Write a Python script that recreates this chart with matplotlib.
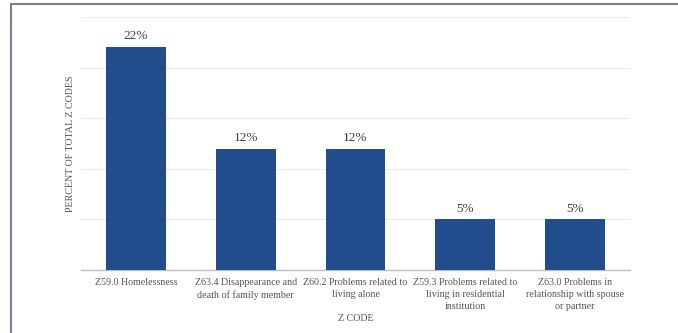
import matplotlib.pyplot as plt
from matplotlib.patches import Rectangle

# ── Datos ───────────────────────────────────────────────────────────────────
categories = [
    "Z59.0 Homelessness",
    "Z63.4 Disappearance and\ndeath of family member",
    "Z60.2 Problems related to\nliving alone",
    "Z59.3 Problems related to\nliving in residential\ninstitution",
    "Z63.0 Problems in\nrelationship with spouse\nor partner",
]
percent = [22, 12, 12, 5, 5]
value_labels = ["22%", "12%", "12%", "5%", "5%"]
y_gridlines = [0, 5, 10, 15, 20, 25]

BAR_COLOR = "#214d8c"
TEXT_COLOR = "#555555"

plt.rcParams["font.family"] = ["Liberation Serif", "DejaVu Serif"]

# ── Figura ──────────────────────────────────────────────────────────────────
fig = plt.figure(figsize=(6.78, 3.33), dpi=100, facecolor="white")
ax = fig.add_axes([81 / 678, 1 - 270 / 333, 549 / 678, 253 / 333])

x = list(range(len(categories)))
ax.bar(x, percent, width=0.545, color=BAR_COLOR, zorder=3)

for xi, v, lab in zip(x, percent, value_labels):
    ax.annotate(lab, xy=(xi, v), xytext=(0, 3.5), textcoords="offset points",
                ha="center", va="bottom", fontsize=9.5, color="#404040")

ax.set_xlim(-0.5, len(categories) - 0.5)
ax.set_ylim(0, 25)
ax.set_yticks(y_gridlines)
ax.set_yticklabels([])
ax.tick_params(axis="y", length=0)
ax.grid(axis="y", color="#ebebeb", linewidth=0.8, zorder=0)

ax.set_xticks(x)
ax.set_xticklabels(categories, fontsize=7.2, color=TEXT_COLOR, linespacing=1.4)
ax.tick_params(axis="x", length=0, pad=6)

for side in ["top", "right", "left"]:
    ax.spines[side].set_visible(False)
ax.spines["bottom"].set_color("#bfbfbf")
ax.spines["bottom"].set_linewidth(1.0)

ax.set_ylabel("PERCENT OF TOTAL Z CODES", fontsize=7.2, color=TEXT_COLOR)
ax.yaxis.set_label_coords(-0.011, 0.5)
ax.set_xlabel("Z CODE", fontsize=7.2, color=TEXT_COLOR)
ax.xaxis.set_label_coords(0.5, -0.172)

# Marco exterior
fig.patches.append(Rectangle((10.5 / 678, -0.05), 1.0, 1.05 - 3.5 / 333,
                             transform=fig.transFigure, fill=False,
                             edgecolor="#7a8094", linewidth=1.5))

fig.savefig("out.png", dpi=100)
